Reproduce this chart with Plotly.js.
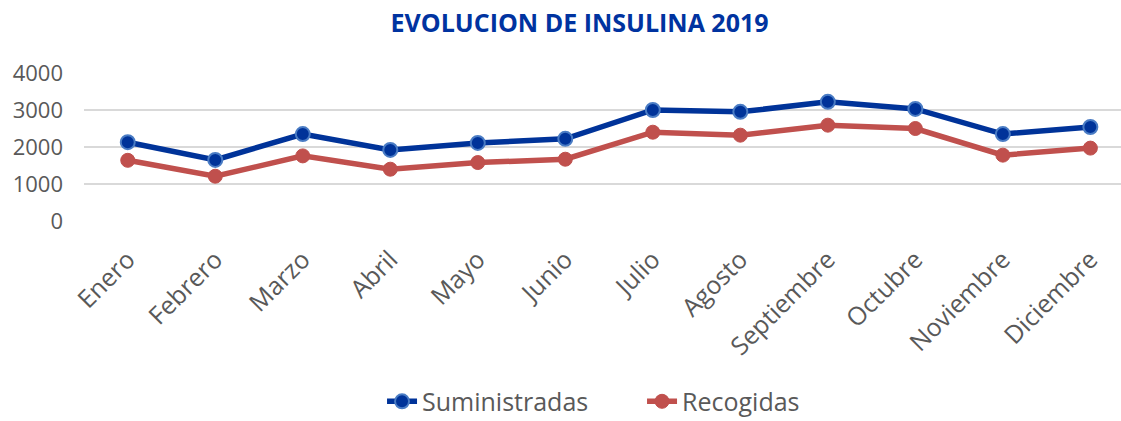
<!DOCTYPE html>
<html><head><meta charset="utf-8">
<script src="https://cdn.plot.ly/plotly-3.0.1.min.js"></script>
<style>body{margin:0;background:#fff}#c{width:1121px;height:421px}</style>
</head><body><div id="c"></div>
<script>
const months = ["Enero","Febrero","Marzo","Abril","Mayo","Junio","Julio","Agosto","Septiembre","Octubre","Noviembre","Diciembre"];
const suministradas = [2130, 1650, 2350, 1920, 2110, 2220, 3000, 2950, 3220, 3030, 2350, 2540];
const recogidas = [1640, 1210, 1760, 1400, 1580, 1670, 2400, 2320, 2590, 2500, 1780, 1970];
const yTicks = [0, 1000, 2000, 3000, 4000];

const font = "'Open Sans', sans-serif";
const traces = [
  {x: months, y: suministradas, name: "Suministradas", type: "scatter", mode: "lines+markers",
   line: {color: "#003399", width: 5.5},
   marker: {size: 14, color: "#003399", line: {color: "#4a7cc4", width: 2}}, cliponaxis: false},
  {x: months, y: recogidas, name: "Recogidas", type: "scatter", mode: "lines+markers",
   line: {color: "#c0504d", width: 5.5},
   marker: {size: 14, color: "#c0504d", line: {color: "#c0504d", width: 1}}, cliponaxis: false}
];
const layout = {
  width: 1121, height: 421,
  margin: {l: 84, r: 0, t: 73, b: 200, autoexpand: false},
  paper_bgcolor: "#fff", plot_bgcolor: "#fff",
  title: {text: "<b>EVOLUCION DE INSULINA 2019</b>", font: {family: font, size: 25, color: "#0033a0"},
          x: 0.517, xanchor: "center", y: 0.944, yanchor: "middle", xref: "container"},
  xaxis: {type: "category", range: [-0.5, 11.35], showgrid: false, zeroline: false, showline: false,
          tickangle: -45, tickfont: {family: font, size: 25, color: "#595959"}, ticks: "", ticklabelstandoff: 18},
  yaxis: {range: [0, 4000], tickvals: yTicks, ticktext: yTicks.map(String), showgrid: true, gridcolor: "#d9d9d9", gridwidth: 1.5,
          zeroline: false, showline: false, tickfont: {family: font, size: 22, color: "#595959"},
          ticklabelstandoff: 20},
  showlegend: true,
  legend: {orientation: "h", x: 0.2874, xanchor: "left", y: -1.22, yanchor: "middle", entrywidth: 215,
           font: {family: font, size: 25, color: "#595959"}, traceorder: "normal"}
};
Plotly.newPlot("c", traces, layout, {displayModeBar: false, staticPlot: true});
</script></body></html>
